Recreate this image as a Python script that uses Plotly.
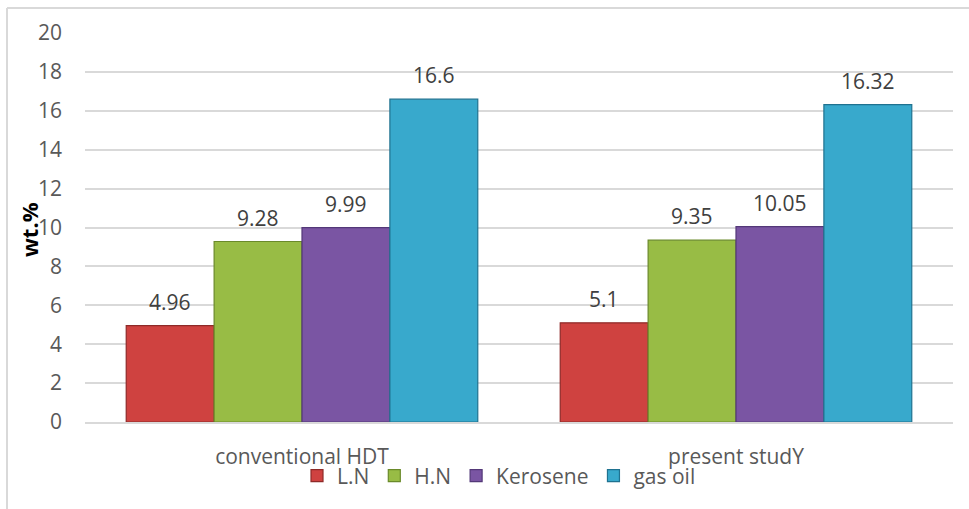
import plotly.graph_objects as go

categories = ["conventional HDT", "present studY"]
series_names = ["L.N", "H.N", "Kerosene", "gas oil"]
ln_values = [4.96, 5.1]
hn_values = [9.28, 9.35]
kerosene_values = [9.99, 10.05]
gas_oil_values = [16.6, 16.32]
y_ticks = [0, 2, 4, 6, 8, 10, 12, 14, 16, 18, 20]

fills = ["#CF4240", "#98BC45", "#7A55A3", "#38A9CC"]
edges = ["#8E2A28", "#6A8A2A", "#533878", "#1F7290"]

W, H = 969, 509
L, R, T, B = 85, 16, 33, 87
pw, ph = W - L - R, H - T - B
BARGAP = 0.19

font_family = "Open Sans, Noto Sans, sans-serif"
text_grey = "#595959"
FS = 21

all_series = [ln_values, hn_values, kerosene_values, gas_oil_values]

fig = go.Figure()
for name, vals, fc, ec in zip(series_names, all_series, fills, edges):
    fig.add_trace(
        go.Bar(
            name=name,
            x=categories,
            y=vals,
            marker=dict(color=fc, line=dict(color=ec, width=1.2)),
        )
    )

# paper-coordinate helpers for pixel positions
def px_x(x):
    return (x - L) / pw

def px_y(y):
    return (H - B - y) / ph

# value labels above each bar, shifted sideways to each bar's slot in the group
bar_px = pw / len(categories) * (1 - BARGAP) / len(series_names)
annotations = []
for i, vals in enumerate(all_series):
    shift = (i - (len(series_names) - 1) / 2) * bar_px
    for cat, v in zip(categories, vals):
        annotations.append(
            dict(
                x=cat, y=v, xref="x", yref="y",
                text=f"{v:g}",
                showarrow=False,
                xshift=shift,
                yshift=24,
                xanchor="center",
                yanchor="middle",
                font=dict(size=FS, color="#404040", family=font_family),
            )
        )

annotations.append(
    dict(
        text="<b>wt.%</b>",
        xref="paper",
        yref="paper",
        x=px_x(29),
        y=px_y(230),
        textangle=-90,
        showarrow=False,
        xanchor="center",
        yanchor="middle",
        font=dict(size=22, color="#000000", family=font_family),
    )
)

fig.update_layout(
    width=W,
    height=H,
    margin=dict(l=L, r=R, t=T, b=B, autoexpand=False),
    paper_bgcolor="white",
    plot_bgcolor="white",
    barmode="group",
    bargap=BARGAP,
    bargroupgap=0,
    font=dict(family=font_family, size=FS, color=text_grey),
    xaxis=dict(
        showgrid=False,
        showline=True,
        linecolor="#D9D9D9",
        linewidth=1.5,
        ticks="",
        ticklabelstandoff=15,
        tickfont=dict(size=FS, color=text_grey),
    ),
    yaxis=dict(
        range=[0, 20],
        tickvals=y_ticks,
        showgrid=True,
        gridcolor="#D9D9D9",
        gridwidth=1.5,
        zeroline=False,
        showline=False,
        ticks="",
        ticklabelstandoff=22,
        tickfont=dict(size=FS, color=text_grey),
    ),
    legend=dict(
        orientation="h",
        x=px_x(499),
        xanchor="center",
        y=px_y(476),
        yanchor="middle",
        font=dict(size=FS, color=text_grey),
        bgcolor="rgba(0,0,0,0)",
        itemwidth=30,
        tracegroupgap=0,
    ),
    showlegend=True,
    annotations=annotations,
    shapes=[
        # chart-area frame (left and top edges)
        dict(
            type="line", xref="paper", yref="paper",
            x0=px_x(7), x1=px_x(7), y0=px_y(8), y1=px_y(H + 5),
            line=dict(color="#D9D9D9", width=2),
        ),
        dict(
            type="line", xref="paper", yref="paper",
            x0=px_x(7), x1=px_x(W + 5), y0=px_y(8), y1=px_y(8),
            line=dict(color="#D9D9D9", width=2),
        ),
    ],
)

fig.write_html("out.html")
